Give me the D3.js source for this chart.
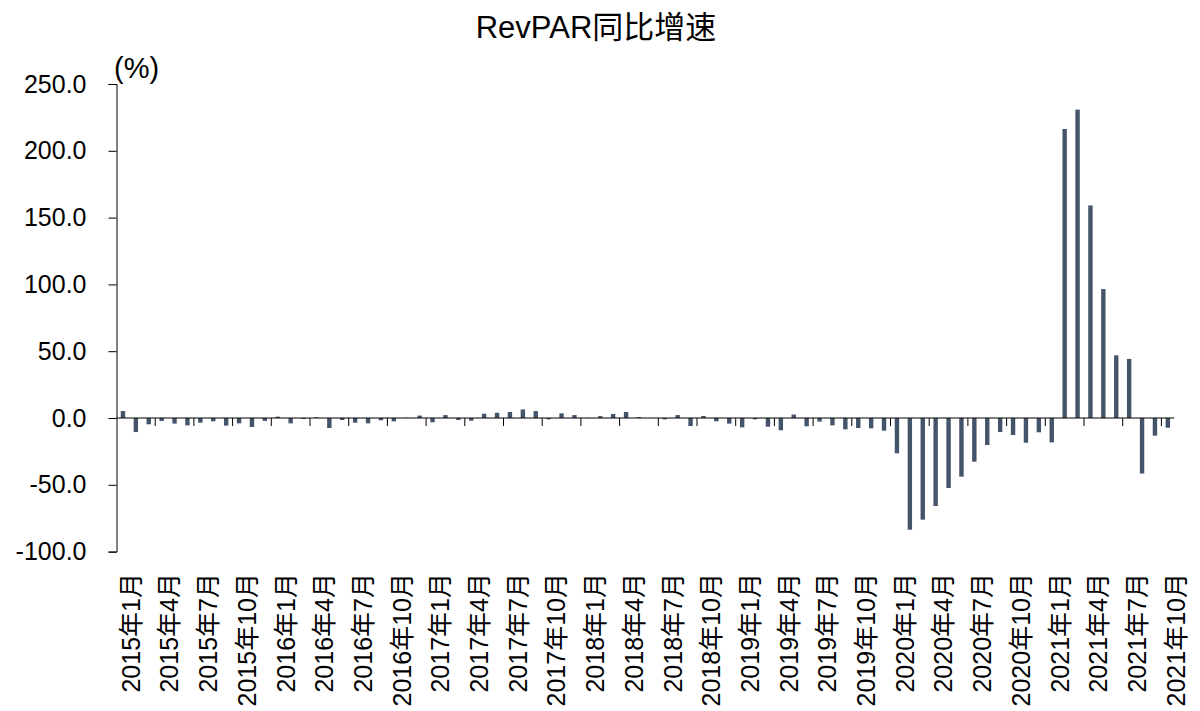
<!DOCTYPE html>
<html>
<head>
<meta charset="utf-8">
<script src="https://cdn.jsdelivr.net/npm/d3@7"></script>
<style>
  body { margin: 0; background: #fff; }
  svg { display: block; font-family: "Liberation Sans", Arial, "Noto Sans CJK SC", sans-serif; }
</style>
</head>
<body>
<svg width="1200" height="711"></svg>
<script>
// months 2015-01 .. 2021-10
const years = [2015, 2016, 2017, 2018, 2019, 2020, 2021];
const months = [];
years.forEach(y => { for (let m = 1; m <= 12; m++) if (y < 2021 || m <= 10) months.push({ y: y, m: m }); });

// RevPAR yoy growth (%)
const revparYoy = [
  5.2, -10.5, -4.7, -2.2, -4.2, -5.5, -3.5, -2.5, -5.7, -4.0, -6.7, -2.2,
  1.0, -4.0, -0.7, 0.5, -7.5, -1.5, -3.5, -4.0, -1.7, -2.5, 0.2, 1.8,
  -3.2, 2.2, -1.5, -2.0, 3.2, 3.9, 4.5, 6.4, 5.2, -1.0, 3.5, 2.2,
  -0.2, 1.4, 3.0, 4.5, 0.7, 0.0, -1.0, 2.2, -6.0, 1.5, -2.5, -4.2,
  -7.0, -1.0, -6.5, -9.2, 2.6, -6.2, -2.7, -5.5, -8.5, -7.5, -7.7, -9.5,
  -26.4, -83.6, -76.1, -65.9, -52.4, -43.9, -32.7, -20.2, -10.5, -12.7, -18.5, -10.7,
  -18.2, 216.3, 230.8, 159.1, 96.5, 46.9, 44.2, -41.6, -13.2, -7.3
];
const yTicks = [-100, -50, 0, 50, 100, 150, 200, 250];
const labelEvery = 3;

const svg = d3.select("svg");
const barColor = "#44546A";

const x = d3.scaleBand()
  .domain(d3.range(months.length))
  .range([116.5, 1174.3])
  .paddingInner(0.66)
  .paddingOuter(0.33);

const y = d3.scaleLinear().domain([-100, 250]).range([551.6, 84]);

// title
svg.append("text")
  .attr("x", 596).attr("y", 38)
  .attr("text-anchor", "middle")
  .style("font-size", "31px")
  .text("RevPAR同比增速");

svg.append("text")
  .attr("x", 114).attr("y", 78)
  .style("font-size", "29px")
  .text("(%)");

// bars
svg.append("g").selectAll("rect")
  .data(revparYoy)
  .enter().append("rect")
  .attr("x", (d, i) => x(i))
  .attr("width", x.bandwidth())
  .attr("y", d => y(Math.max(0, d)))
  .attr("height", d => Math.abs(y(d) - y(0)))
  .attr("fill", barColor);

// y axis (plain hyphen for negatives)
const fmt = d3.format(".1f");
const yAxis = svg.append("g")
  .attr("transform", "translate(116.5,0)")
  .call(d3.axisLeft(y).tickValues(yTicks).tickFormat(d => fmt(d).replace("\u2212", "-")).tickSize(8).tickPadding(22));
yAxis.select(".domain").attr("stroke", "#000");
yAxis.selectAll("text").style("font-size", "25px").attr("fill", "#000");

// x axis line at zero
svg.append("line")
  .attr("x1", x.range()[0]).attr("x2", x.range()[1])
  .attr("y1", y(0)).attr("y2", y(0))
  .attr("stroke", "#000");

// tick marks between every 3rd month
const step = x.step();
const tickIdx = d3.range(labelEvery, months.length + 1, labelEvery);
svg.append("g").selectAll("line")
  .data(tickIdx)
  .enter().append("line")
  .attr("x1", d => x.range()[0] + d * step)
  .attr("x2", d => x.range()[0] + d * step)
  .attr("y1", y(0)).attr("y2", y(0) + 8)
  .attr("stroke", "#000");

// month labels
svg.append("g").selectAll("text")
  .data(months.filter((d, i) => i % labelEvery === 0).map((d, k) => ({ d: d, i: k * labelEvery })))
  .enter().append("text")
  .attr("transform", d => `translate(${x(d.i) + x.bandwidth() / 2 + 8},573) rotate(-90)`)
  .attr("text-anchor", "end")
  .attr("dy", "0.35em")
  .style("font-size", "25px")
  .text(d => `${d.d.y}年${d.d.m}月`);
</script>
</body>
</html>
